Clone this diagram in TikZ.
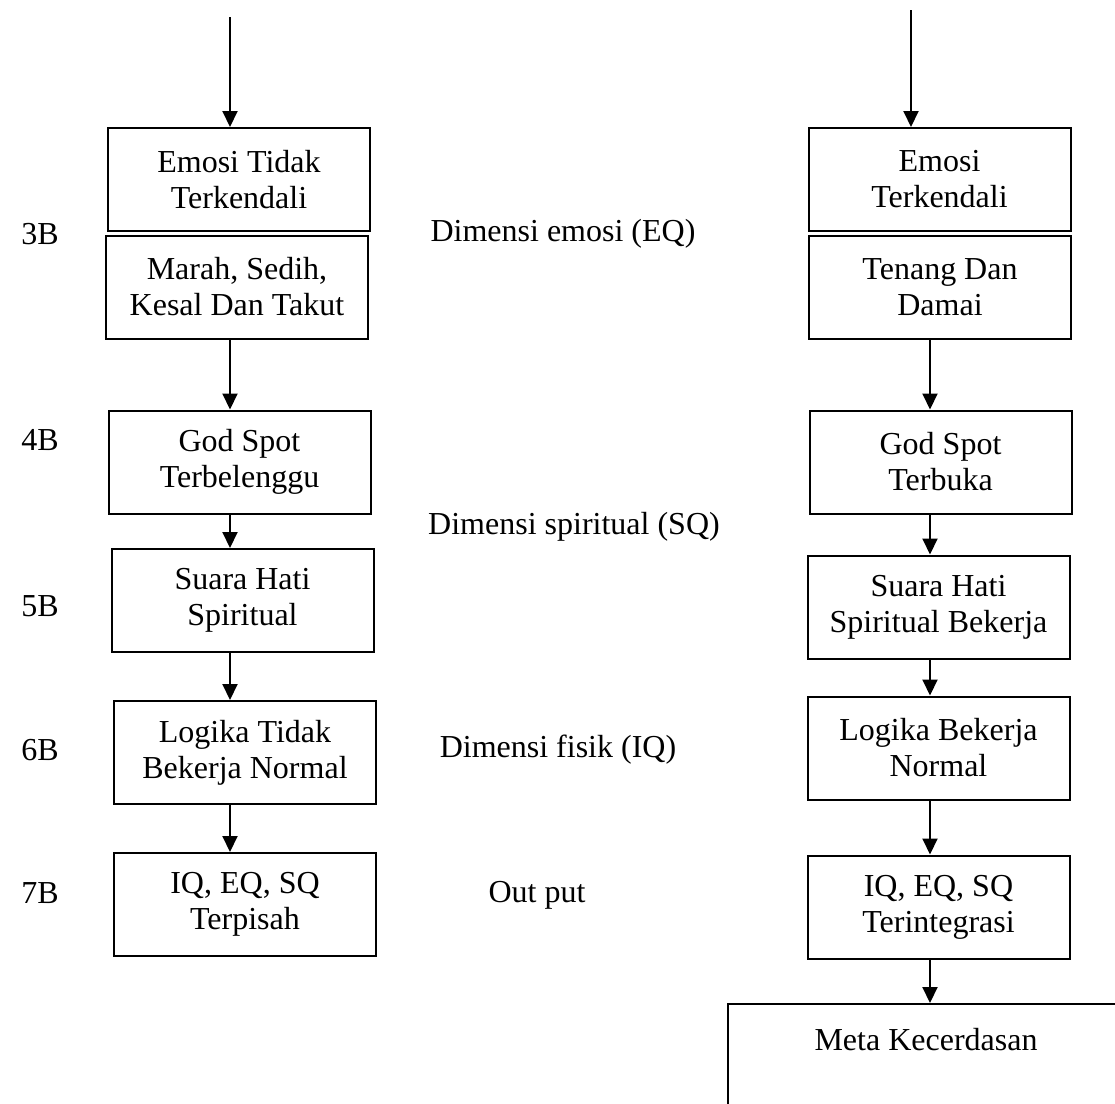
\documentclass[tikz,border=0pt]{standalone}
\usepackage{fontspec}
\setmainfont{Liberation Serif}
\usetikzlibrary{arrows.meta}

\tikzset{
  box/.style={draw=black, line width=1pt, inner sep=0pt, align=center,
    minimum width=131pt, minimum height=51.5pt},
  arr/.style={line width=1pt, -{Triangle[length=8pt,width=7.5pt]}},
  lbl/.style={inner sep=0pt}
}

\begin{document}
\begin{tikzpicture}[x=0.5pt, y=-0.5pt, font=\fontsize{16}{18}\selectfont]
    \useasboundingbox (0,0) rectangle (1115,1104);
    \clip (0,0) rectangle (1115,1104);

    % left column
    \coordinate (topL) at (230,17);
    \node[box] (L1) at (239,179.5) {Emosi Tidak\\Terkendali};
    \node[box] (L2) at (237,287) {Marah, Sedih,\\Kesal Dan Takut};
    \node[box] (L3) at (239.5,462) {God Spot\\Terbelenggu};
    \node[box] (L4) at (242.5,600.5) {Suara Hati\\Spiritual};
    \node[box] (L5) at (245,752.5) {Logika Tidak\\Bekerja Normal};
    \node[box] (L6) at (245,904.5) {IQ, EQ, SQ\\Terpisah};

    \draw[arr] (topL) -- (topL |- L1.north);
    \draw[arr] (L2.south -| topL) -- (L3.north -| topL);
    \draw[arr] (L3.south -| topL) -- (L4.north -| topL);
    \draw[arr] (L4.south -| topL) -- (L5.north -| topL);
    \draw[arr] (L5.south -| topL) -- (L6.north -| topL);

    % right column
    \coordinate (topR) at (911,10);
    \coordinate (colR) at (930,0);
    \node[box] (R1) at (939.5,179.5) {Emosi\\Terkendali};
    \node[box] (R2) at (940,287) {Tenang Dan\\Damai};
    \node[box] (R3) at (940.5,462) {God Spot\\Terbuka};
    \node[box] (R4) at (938.5,607) {Suara Hati\\Spiritual Bekerja};
    \node[box] (R5) at (938.5,748) {Logika Bekerja\\Normal};
    \node[box] (R6) at (938.5,907) {IQ, EQ, SQ\\Terintegrasi};
    \node[box, anchor=north west, minimum width=198pt, minimum height=0pt,
      text height=23pt, text depth=60pt] (meta) at (727,1003) {Meta Kecerdasan};

    \draw[arr] (topR) -- (topR |- R1.north);
    \draw[arr] (R2.south -| colR) -- (R3.north -| colR);
    \draw[arr] (R3.south -| colR) -- (R4.north -| colR);
    \draw[arr] (R4.south -| colR) -- (R5.north -| colR);
    \draw[arr] (R5.south -| colR) -- (R6.north -| colR);
    \draw[arr] (R6.south -| colR) -- (meta.north -| colR);

    % level labels
    \node[lbl] (n3) at (40,234) {3B};
    \node[lbl] (n4) at (40,440) {4B};
    \node[lbl] (n5) at (40,606) {5B};
    \node[lbl] (n6) at (40,750) {6B};
    \node[lbl] (n7) at (40,893) {7B};

    % dimensions
    \node[lbl] (dEQ) at (563,234) {Dimensi emosi (EQ)};
    \node[lbl] (dSQ) at (574,527) {Dimensi spiritual (SQ)};
    \node[lbl] (dIQ) at (558,750) {Dimensi fisik (IQ)};
    \node[lbl] (out) at (537,895) {Out put};
\end{tikzpicture}
\end{document}
